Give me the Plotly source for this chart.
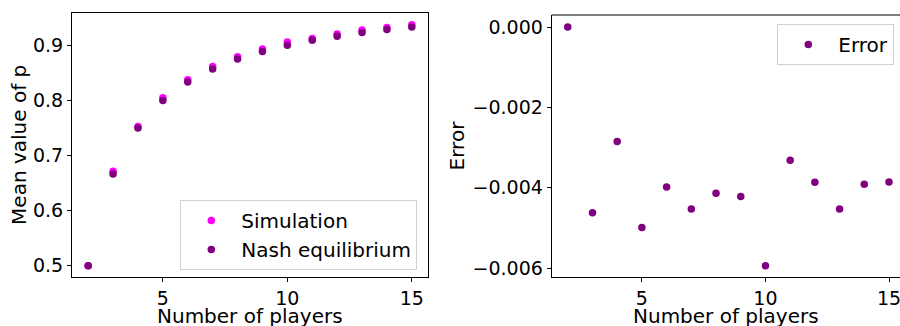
import plotly.graph_objects as go

players = [2, 3, 4, 5, 6, 7, 8, 9, 10, 11, 12, 13, 14, 15]
nash = [0.5, 0.66667, 0.75, 0.8, 0.83333, 0.85714, 0.875, 0.88889, 0.9, 0.90909,
        0.91667, 0.92308, 0.92857, 0.93333]
simulation = [0.5, 0.67129, 0.75285, 0.80499, 0.83731, 0.86167, 0.87914, 0.89311,
              0.90594, 0.91240, 0.92053, 0.92760, 0.93248, 0.93719]
error = [0.0, -0.004624, -0.002851, -0.004989, -0.003978, -0.004525, -0.004135,
         -0.004218, -0.005942, -0.003315, -0.003862, -0.004525, -0.003912, -0.003854]

x_ticks = [5, 10, 15]
left_y_ticks = [0.5, 0.6, 0.7, 0.8, 0.9]
right_y_ticks = [-0.006, -0.004, -0.002, 0.0]
x_title = "Number of players"

FONT = "DejaVu Sans"
W, H = 900, 326

fig = go.Figure()
fig.add_trace(go.Scatter(x=players, y=simulation, mode="markers", name="Simulation",
                         marker=dict(color="#ff00ff", size=7.5), xaxis="x", yaxis="y",
                         legend="legend"))
fig.add_trace(go.Scatter(x=players, y=nash, mode="markers", name="Nash equilibrium",
                         marker=dict(color="#800080", size=7.5), xaxis="x", yaxis="y",
                         legend="legend"))
fig.add_trace(go.Scatter(x=players, y=error, mode="markers", name="Error",
                         marker=dict(color="#800080", size=7.5), xaxis="x2", yaxis="y2",
                         legend="legend2"))

axis_common = dict(showgrid=False, zeroline=False, ticks="outside", ticklen=4,
                   tickwidth=1, tickcolor="black", linecolor="black", linewidth=1,
                   showline=True, ticklabeloverflow="allow", automargin=False,
                   tickfont=dict(family=FONT, size=19, color="black"))

fig.update_layout(
    width=W, height=H, margin=dict(l=0, r=0, t=0, b=0),
    paper_bgcolor="white", plot_bgcolor="white",
    font=dict(family=FONT, size=19, color="black"),
    xaxis=dict(domain=[72 / W, 428 / W], range=[1.35, 15.65], tickvals=x_ticks,
               mirror=True, anchor="y", **axis_common),
    yaxis=dict(domain=[1 - 277 / H, 1 - 12.7 / H], range=[0.4795, 0.9592],
               tickvals=left_y_ticks, tickformat=".1f", mirror=True, anchor="x",
               title=dict(text="Mean value of p", font=dict(size=20), standoff=0),
               **axis_common),
    xaxis2=dict(domain=[551.7 / W, 1.0], range=[1.35, 15.445], tickvals=x_ticks,
                anchor="y2", **axis_common),
    yaxis2=dict(domain=[1 - 277 / H, 1 - 15 / H], range=[-0.00622, 0.0003],
                tickvals=right_y_ticks, tickformat=".3f", anchor="x2",
                title=dict(text="Error", font=dict(size=20), standoff=2),
                **axis_common),
    legend=dict(x=417.3 / W, xanchor="right", y=1 - 270 / H, yanchor="bottom",
                itemwidth=50,
                bgcolor="rgba(255,255,255,0.8)", bordercolor="#d0d0d0", borderwidth=1,
                font=dict(family=FONT, size=20, color="black")),
    legend2=dict(x=894.3 / W, xanchor="right", y=1 - 24 / H, yanchor="top",
                 itemwidth=50,
                 bgcolor="rgba(255,255,255,0.8)", bordercolor="#d0d0d0", borderwidth=1,
                 font=dict(family=FONT, size=20, color="black")),
    showlegend=True,
)

# x-axis titles: left one centred under its axes; right one centred under the full
# (partly off-picture) axes box, as in the reference
fig.add_annotation(text=x_title, xref="x domain", yref="paper", x=0.5, y=1 - 316 / H,
                   xanchor="center", yanchor="middle", showarrow=False,
                   font=dict(family=FONT, size=20, color="black"))
fig.add_annotation(text=x_title, xref="paper", yref="paper", x=726 / W, y=1 - 316 / H,
                   xanchor="center", yanchor="middle", showarrow=False,
                   font=dict(family=FONT, size=20, color="black"))

# top border of the right panel (its right edge lies beyond the picture)
fig.add_shape(type="line", xref="x2 domain", yref="y2 domain", x0=0, x1=1.05, y0=1, y1=1,
              line=dict(color="black", width=1))

fig.write_html("out.html")
